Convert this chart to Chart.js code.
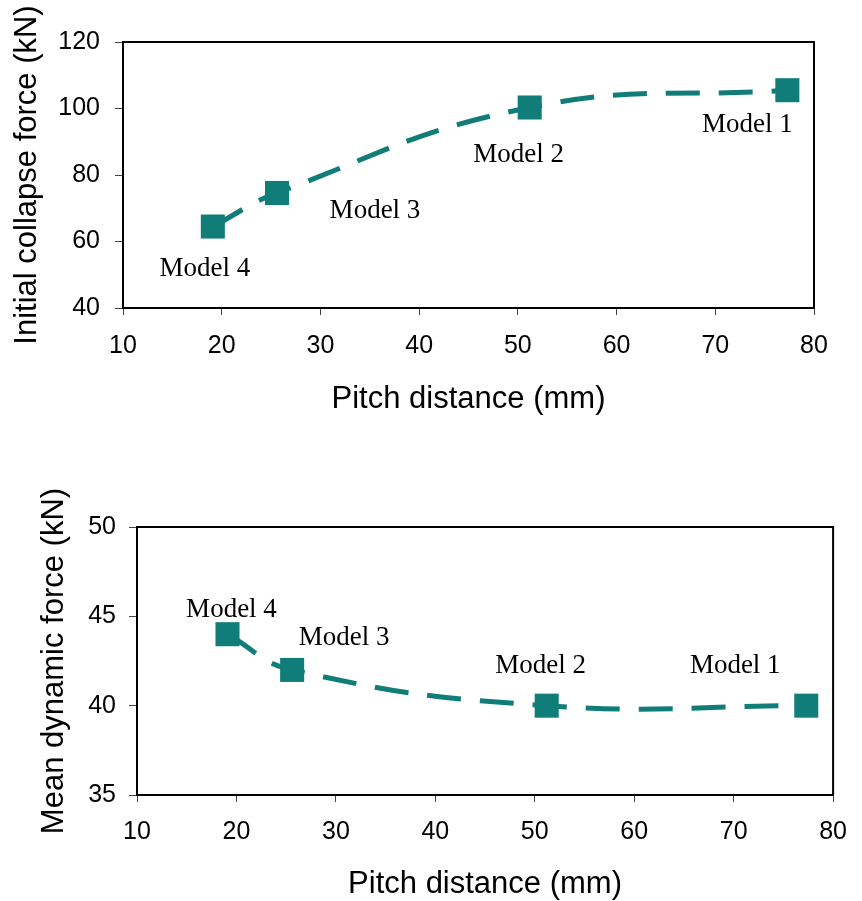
<!DOCTYPE html>
<html><head><meta charset="utf-8">
<script src="https://cdn.jsdelivr.net/npm/chart.js@4/dist/chart.umd.min.js"></script>
<style>
html,body{margin:0;padding:0;background:#fff;width:862px;height:901px;overflow:hidden}
canvas{position:absolute;left:0}
</style></head>
<body>
<canvas id="c1" width="862" height="430" style="top:0px"></canvas>
<canvas id="c2" width="862" height="471" style="top:430px"></canvas>
<script>
// ---- data ----
const pitchDistance = [19.1, 25.6, 51.2, 77.3];
const modelNames = ['Model 4', 'Model 3', 'Model 2', 'Model 1'];
const initialCollapseForce = [64.5, 74.6, 100.3, 105.5];
const meanDynamicForce = [44.0, 42.0, 40.0, 40.0];
const xTicks = [10, 80, 10];          // min, max, step
const yTicks1 = [40, 120, 20];
const yTicks2 = [35, 50, 5];
const xTitle = 'Pitch distance (mm)';
const yTitle1 = 'Initial collapse force (kN)';
const yTitle2 = 'Mean dynamic force (kN)';

// ---- styling ----
const TEAL = '#117d78';
const SANS = "'Liberation Sans', Arial, sans-serif";
const SERIF = "'Liberation Serif', 'Times New Roman', serif";

const framePlugin = {
  id: 'frame',
  beforeDatasetsDraw(chart) {
    const {ctx, chartArea: a} = chart;
    ctx.save();
    ctx.strokeStyle = '#000';
    ctx.lineWidth = 2;
    ctx.strokeRect(a.left, a.top, a.right - a.left, a.bottom - a.top);
    ctx.restore();
  }
};

const labelPlugin = {
  id: 'modelLabels',
  afterDatasetsDraw(chart, args, opts) {
    const {ctx} = chart;
    const meta = chart.getDatasetMeta(0);
    ctx.save();
    ctx.fillStyle = '#000';
    ctx.font = '27px ' + SERIF;
    ctx.textAlign = 'center';
    ctx.textBaseline = 'middle';
    meta.data.forEach((pt, i) => {
      const o = opts.offsets[i];
      ctx.fillText(opts.names[i], pt.x + o[0], pt.y + o[1]);
    });
    ctx.restore();
  }
};

function makeChart(id, yValues, yT, yTitle, cfg) {
  const points = pitchDistance.map((x, i) => ({x: x, y: yValues[i]}));
  return new Chart(document.getElementById(id), {
    type: 'line',
    data: {
      datasets: [{
        data: points,
        borderColor: TEAL,
        borderWidth: 5,
        borderDash: [34, 19],
        borderCapStyle: 'butt',
        tension: 0.45,
        pointStyle: 'rect',
        pointRadius: 17,
        pointHoverRadius: 17,
        pointBackgroundColor: TEAL,
        pointBorderColor: TEAL,
        pointBorderWidth: 0,
        clip: false
      }]
    },
    options: {
      responsive: false,
      animation: false,
      events: [],
      layout: {padding: cfg.padding},
      plugins: {
        legend: {display: false},
        tooltip: {enabled: false},
        modelLabels: {names: modelNames, offsets: cfg.offsets}
      },
      scales: {
        x: {
          type: 'linear',
          min: xTicks[0], max: xTicks[1],
          afterFit: s => { s.height = cfg.xHeight; },
          ticks: {stepSize: xTicks[2], color: '#000', padding: cfg.xTickPad,
                  font: {family: SANS, size: 25}, maxRotation: 0},
          grid: {drawOnChartArea: false, drawTicks: true, tickLength: 7, color: '#444', tickWidth: 1},
          border: {display: false},
          title: {display: true, text: xTitle, color: '#000',
                  font: {family: SANS, size: 31}, padding: {top: 0, bottom: cfg.xTitlePad}}
        },
        y: {
          min: yT[0], max: yT[1],
          afterFit: s => { s.width = cfg.yWidth; },
          ticks: {stepSize: yT[2], color: '#000', padding: cfg.yTickPad,
                  font: {family: SANS, size: 25}},
          grid: {drawOnChartArea: false, drawTicks: true, tickLength: 8, color: '#444', tickWidth: 1},
          border: {display: false},
          title: {display: true, text: yTitle, color: '#000',
                  font: {family: SANS, size: 31}, padding: {top: cfg.yTitlePad, bottom: 0}}
        }
      }
    },
    plugins: [framePlugin, labelPlugin]
  });
}

makeChart('c1', initialCollapseForce, yTicks1, yTitle1, {
  padding: {top: 42, right: 48, left: 0, bottom: 0},
  xHeight: 122, yWidth: 123,
  xTickPad: 16, yTickPad: 15, xTitlePad: 12, yTitlePad: 9,
  offsets: [[-8, 42], [98, 18], [-11, 47], [-40, 35]]
});

makeChart('c2', meanDynamicForce, yTicks2, yTitle2, {
  padding: {top: 97, right: 17, left: 0, bottom: 0},
  xHeight: 106, yWidth: 137,
  xTickPad: 15, yTickPad: 13, xTitlePad: -2, yTitlePad: 36,
  offsets: [[4, -24], [52, -32], [-6, -40], [-71, -40]]
});
</script>
</body></html>
